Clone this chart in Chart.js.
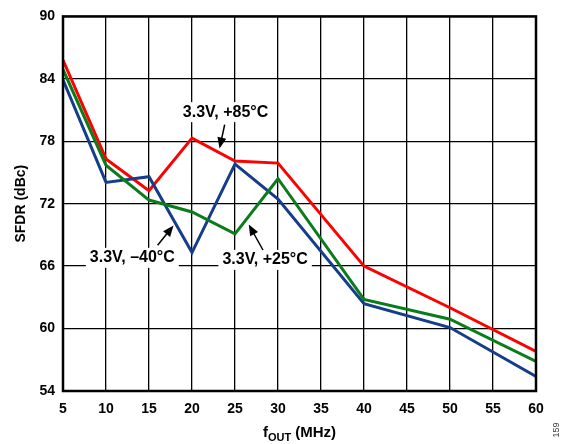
<!DOCTYPE html>
<html>
<head>
<meta charset="utf-8">
<script src="https://cdn.jsdelivr.net/npm/chart.js@4"></script>
<style>
  html, body { margin: 0; padding: 0; background: #fff; }
  #wrap { position: relative; width: 569px; height: 444px; }
</style>
</head>
<body>
<div id="wrap"><canvas id="chart" width="569" height="444"></canvas></div>
<script>
// fOUT in MHz (no point at 35)
var freqs = [5, 10, 15, 20, 25, 30, 40, 50, 60];
var sfdr85 = [85.8, 76.3, 73.25, 78.3, 76.1, 75.9, 66.0, 62.0, 57.8];
var sfdr25 = [84.9, 75.7, 72.35, 71.2, 69.1, 74.4, 62.8, 60.9, 56.85];
var sfdrM40 = [83.9, 74.05, 74.6, 67.3, 75.8, 72.45, 62.4, 60.1, 55.4];
var xTicks = [5, 10, 15, 20, 25, 30, 35, 40, 45, 50, 55, 60];
var yTicks = [54, 60, 66, 72, 78, 84, 90];

// callout labels, in data units: text, centre, arrow tail -> head
var callouts = [
  { text: '3.3V, +85°C', x: 23.9, y: 80.8, from: [23.8, 79.6], to: [23.2, 77.3] },
  { text: '3.3V, \u201340°C', x: 13.06, y: 66.8, from: [16.0, 68.0], to: [17.85, 69.9] },
  { text: '3.3V, +25°C', x: 28.5, y: 66.6, from: [28.25, 67.55], to: [26.6, 70.0] }
];

function pts(ys) {
  return freqs.map(function(f, i) { return { x: f, y: ys[i] }; });
}

var FONT = '"Liberation Sans", Arial, sans-serif';

var overlay = {
  id: 'overlay',
  afterDatasetsDraw: function(chart) {
    var c = chart.ctx, sx = chart.scales.x, sy = chart.scales.y;
    c.save();
    c.font = 'bold 16px ' + FONT;
    c.textAlign = 'center';
    c.textBaseline = 'middle';
    callouts.forEach(function(o) {
      var px = sx.getPixelForValue(o.x), py = sy.getPixelForValue(o.y);
      var w = c.measureText(o.text).width;
      c.fillStyle = '#fff';
      c.fillRect(px - w / 2 - 4, py - 10, w + 8, 20);
      c.fillStyle = '#000';
      c.fillText(o.text, px, py);
      // arrow
      var x1 = sx.getPixelForValue(o.from[0]), y1 = sy.getPixelForValue(o.from[1]);
      var x2 = sx.getPixelForValue(o.to[0]), y2 = sy.getPixelForValue(o.to[1]);
      var a = Math.atan2(y2 - y1, x2 - x1);
      c.strokeStyle = '#000';
      c.lineWidth = 1.5;
      c.beginPath();
      c.moveTo(x1, y1);
      c.lineTo(x2 - 8 * Math.cos(a), y2 - 8 * Math.sin(a));
      c.stroke();
      c.beginPath();
      c.moveTo(x2, y2);
      c.lineTo(x2 - 11 * Math.cos(a) + 4.5 * Math.sin(a), y2 - 11 * Math.sin(a) - 4.5 * Math.cos(a));
      c.lineTo(x2 - 11 * Math.cos(a) - 4.5 * Math.sin(a), y2 - 11 * Math.sin(a) + 4.5 * Math.cos(a));
      c.closePath();
      c.fillStyle = '#000';
      c.fill();
    });
    c.restore();
  },
  afterDraw: function(chart) {
    var c = chart.ctx, a = chart.chartArea;
    c.save();
    c.strokeStyle = '#000';
    c.lineWidth = 2.5;
    c.strokeRect(a.left, a.top, a.right - a.left, a.bottom - a.top);
    c.fillStyle = '#000';
    // y title
    c.font = 'bold 14px ' + FONT;
    c.textAlign = 'center';
    c.textBaseline = 'middle';
    c.translate(21, (a.top + a.bottom) / 2);
    c.rotate(-Math.PI / 2);
    c.fillText('SFDR (dBc)', 0, 0);
    c.setTransform(1, 0, 0, 1, 0, 0);
    // x title with subscript
    var cx = (a.left + a.right) / 2, ty = 432;
    c.textAlign = 'left';
    c.textBaseline = 'alphabetic';
    c.font = 'bold 15px ' + FONT;
    var wf = c.measureText('f').width;
    c.font = 'bold 11px ' + FONT;
    var ws = c.measureText('OUT').width;
    c.font = 'bold 15px ' + FONT;
    var wr = c.measureText(' (MHz)').width;
    var x0 = cx - (wf + ws + wr) / 2;
    c.fillText('f', x0, ty + 5);
    c.font = 'bold 11px ' + FONT;
    c.fillText('OUT', x0 + wf, ty + 9);
    c.font = 'bold 15px ' + FONT;
    c.fillText(' (MHz)', x0 + wf + ws, ty + 5);
    // figure number
    c.font = '9px ' + FONT;
    c.fillStyle = '#333';
    c.textAlign = 'center';
    c.textBaseline = 'middle';
    c.translate(557, 430);
    c.rotate(-Math.PI / 2);
    c.fillText('159', 0, 0);
    c.restore();
  }
};

function line(label, data, color) {
  return {
    label: label,
    data: pts(data),
    borderColor: color,
    backgroundColor: color,
    borderWidth: 3,
    pointRadius: 0,
    tension: 0,
    fill: false
  };
}

new Chart(document.getElementById('chart'), {
  type: 'line',
  data: {
    datasets: [
      line('3.3V, +25°C', sfdr25, '#0a7d1a'),
      line('3.3V, \u201340°C', sfdrM40, '#153d8a'),
      line('3.3V, +85°C', sfdr85, '#ff0000')
    ]
  },
  options: {
    responsive: false,
    animation: false,
    devicePixelRatio: 1,
    layout: { padding: { left: 0, top: 13, right: 33, bottom: 0 } },
    plugins: { legend: { display: false }, tooltip: { enabled: false } },
    scales: {
      x: {
        type: 'linear',
        min: 5, max: 60,
        afterBuildTicks: function(s) { s.ticks = xTicks.map(function(v) { return { value: v }; }); },
        afterFit: function(s) { s.height = 53; },
        grid: { color: '#000', lineWidth: 1.3, drawTicks: false },
        border: { display: false },
        ticks: { color: '#000', padding: 10, maxRotation: 0, font: { family: FONT, weight: 'bold', size: 14 } }
      },
      y: {
        type: 'linear',
        min: 54, max: 90,
        afterBuildTicks: function(s) { s.ticks = yTicks.map(function(v) { return { value: v }; }); },
        afterFit: function(s) { s.width = 63; },
        grid: { color: '#000', lineWidth: 1.3, drawTicks: false },
        border: { display: false },
        ticks: { color: '#000', padding: 8, font: { family: FONT, weight: 'bold', size: 14 } }
      }
    }
  },
  plugins: [overlay]
});
</script>
</body>
</html>
